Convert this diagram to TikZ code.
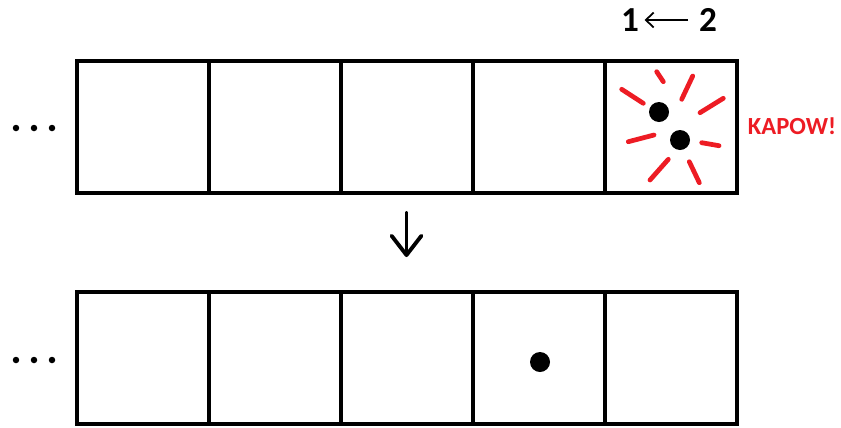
\documentclass[tikz,border=0pt]{standalone}
\usepackage{fontspec}
\setmainfont{Carlito}
\usetikzlibrary{arrows.meta}
\definecolor{kapowred}{RGB}{237,28,36}
\begin{document}
\begin{tikzpicture}[x=0.02cm, y=-0.02cm,
        cell/.style={draw, line width=1.9pt, minimum width=2.64cm,
                     minimum height=2.64cm, inner sep=0pt},
        ball/.style={circle, fill=black, minimum size=0.4cm, inner sep=0pt},
        ell/.style={circle, fill=black, minimum size=0.13cm, inner sep=0pt},
        spark/.style={kapowred, line width=2.7pt, line cap=round},
        num/.style={font=\bfseries\fontsize{20}{22}\selectfont, inner sep=1pt}]
      \useasboundingbox (0,0) rectangle (841,427);
      % the two rows of cells
      \foreach \i in {1,...,5}{
        \node[cell] (t\i) at ({11+132*\i},127) {};
        \node[cell] (b\i) at ({11+132*\i},358) {};
      }
      % ellipses on the left
      \foreach \x in {16,34,52}{
        \node[ell] at (\x,128) {};
        \node[ell] at (\x,360) {};
      }
      % particles
      \node[ball] (p1) at (659,112) {};
      \node[ball] (p2) at (680,140) {};
      \node[ball] (p3) at (540,362) {};
      % sparks round the collision
      \foreach \a/\b/\c/\d in {621.7/89.3/643.3/103.3, 656.7/71.7/663.3/81.7,
          692.7/76/681.7/99.3, 723.3/98.3/700/112.7, 628.3/141.7/654/135,
          701.7/142.7/719/145.7, 668.3/159.3/650/180, 689.3/161.7/699.3/182.7}
        \draw[spark] (\a,\b) -- (\c,\d);
      \node[kapowred, font=\bfseries\fontsize{14}{16}\selectfont] (kapow) at (792,126) {KAPOW!};
      % labels 1 <- 2
      \node[num] (one) at (630,20) {1};
      \node[num] (two) at (708,20) {2};
      \draw[-{Straight Barb[length=4.5pt, width=8.5pt]}, line width=1pt,
            shorten <=5pt, shorten >=2pt] (two.west) -- (one.east);
      % step arrow
      \coordinate (stepa) at (406.5,213);
      \coordinate (stepb) at (406.5,257);
      \draw[-{Straight Barb[length=11pt, width=17pt, round]}, line width=2.2pt, line cap=round] (stepa) -- (stepb);
\end{tikzpicture}
\end{document}
